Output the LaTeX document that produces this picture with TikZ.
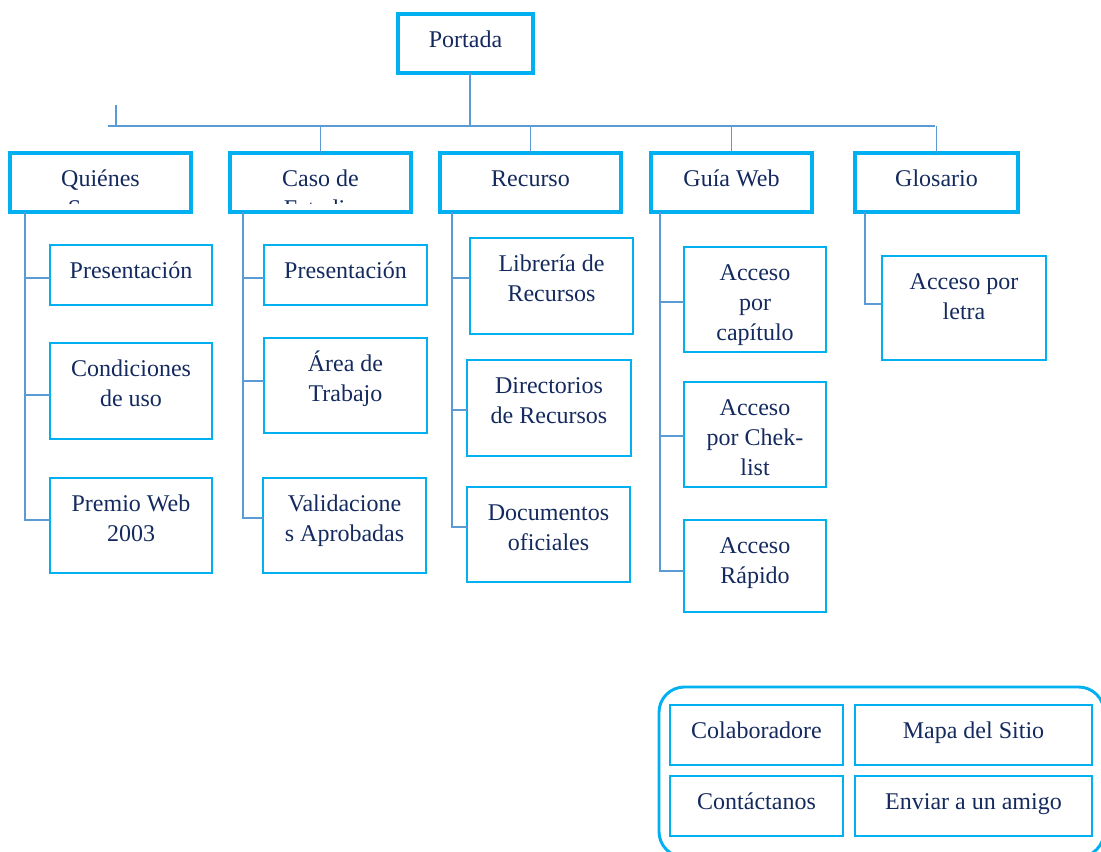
\documentclass[tikz,border=0pt]{standalone}
\usepackage{fontspec}
\setmainfont{Liberation Serif}
\usetikzlibrary{calc}
\definecolor{bcyan}{HTML}{00B0F0}
\definecolor{tnavy}{HTML}{142A5E}
\definecolor{lblue}{HTML}{5B9BD5}
\newcommand\bx[6]{\node[#6, anchor=north west, minimum width={(#4-#2)*0.75pt}, minimum height={(#5-#3)*0.75pt}] (#1) at (#2,#3) {};}
\newcommand\tx[3]{\node[txt] (#1) at ($(#2.north)+(0,12)$) {\strut #3};}
\begin{document}
\begin{tikzpicture}[x=0.75pt,y=-0.75pt,
  thick box/.style={draw=bcyan, line width=2.4pt, inner sep=0pt, outer sep=0pt},
  thin box/.style={draw=bcyan, line width=1.1pt, inner sep=0pt, outer sep=0pt},
  frame box/.style={draw=bcyan, line width=2.2pt, inner sep=0pt, outer sep=0pt, rounded corners=19pt},
  txt/.style={anchor=north, inner sep=0pt, align=center, text=tnavy, font=\fontsize{18}{22.5}\selectfont},
  conn/.style={draw=lblue, line width=1.1pt}]
\useasboundingbox (0,0) rectangle (1101,851);
\clip (0,0) rectangle (1101,851);

% top
\bx{portada}{398}{14}{533}{73}{thick box}
\tx{tportada}{portada}{Portada}

% level 1
\begin{scope}
\clip (10,153) rectangle (191,203);
\node[txt] (tquienes) at (100.5,165) {\strut Quiénes\\Somos};
\end{scope}
\begin{scope}
\clip (230,153) rectangle (411,203);
\node[txt] (tcaso) at (320.5,165) {\strut Caso de\\Estudio};
\end{scope}
\bx{quienes}{10}{153}{191}{212}{thick box}
\bx{caso}{230}{153}{411}{212}{thick box}
\bx{recurso}{440}{153}{621}{212}{thick box}
\tx{trecurso}{recurso}{Recurso}
\bx{guia}{651}{153}{812}{212}{thick box}
\tx{tguia}{guia}{Guía Web}
\bx{glosario}{855}{153}{1018}{212}{thick box}
\tx{tglosario}{glosario}{Glosario}

% bus
\coordinate (busP) at (470,126);
\coordinate (busL) at (108,126);
\coordinate (busR) at (935,126);
\coordinate (tick) at (116,105);
\draw[conn] (portada.south -| busP) -- (busP);
\draw[conn] (busL) -- (busR);
\draw[conn] (tick) -- (tick |- busL);
\draw[conn] (caso.north |- busL) -- (caso.north);
\draw[conn] (recurso.north |- busL) -- (recurso.north);
\draw[conn] (guia.north |- busL) -- (guia.north);
\draw[conn] (glosario.north |- busL) -- (glosario.north);

% Quienes children
\bx{q1}{50}{245}{212}{305}{thin box}
\tx{tq1}{q1}{Presentación}
\bx{q2}{50}{343}{212}{439}{thin box}
\tx{tq2}{q2}{Condiciones\\de uso}
\bx{q3}{50}{478}{212}{573}{thin box}
\tx{tq3}{q3}{Premio Web\\2003}
\coordinate (qx) at (25,212);
\draw[conn] (qx) |- ([yshift=-2.25pt]q1.west);
\draw[conn] (qx) |- ([yshift=-3pt]q2.west);
\draw[conn] (qx) |- ([yshift=4pt]q3.west);

% Caso children
\bx{c1}{264}{245}{427}{305}{thin box}
\tx{tc1}{c1}{Presentación}
\bx{c2}{264}{338}{427}{433}{thin box}
\tx{tc2}{c2}{Área de\\Trabajo}
\bx{c3}{263}{478}{426}{573}{thin box}
\tx{tc3}{c3}{Validacione\\s Aprobadas}
\coordinate (cx) at (243,212);
\draw[conn] (cx) |- ([yshift=-2.25pt]c1.west);
\draw[conn] (cx) |- ([yshift=3.4pt]c2.west);
\draw[conn] (cx) |- ([yshift=5.6pt]c3.west);

% Recurso children
\bx{r1}{470}{238}{633}{334}{thin box}
\tx{tr1}{r1}{Librería de\\Recursos}
\bx{r2}{467}{360}{631}{456}{thin box}
\tx{tr2}{r2}{Directorios\\de Recursos}
\bx{r3}{467}{487}{630}{582}{thin box}
\tx{tr3}{r3}{Documentos\\oficiales}
\coordinate (rx) at (452,212);
\draw[conn] (rx) |- ([yshift=6pt]r1.west);
\draw[conn] (rx) |- ([yshift=-1.5pt]r2.west);
\draw[conn] (rx) |- ([yshift=5.6pt]r3.west);

% Guia children
\bx{g1}{684}{247}{826}{352}{thin box}
\tx{tg1}{g1}{Acceso\\por\\capítulo}
\bx{g2}{684}{382}{826}{487}{thin box}
\tx{tg2}{g2}{Acceso\\por Chek-\\list}
\bx{g3}{684}{520}{826}{612}{thin box}
\tx{tg3}{g3}{Acceso\\Rápido}
\coordinate (gx) at (660,212);
\draw[conn] (gx) |- ([yshift=-1.9pt]g1.west);
\draw[conn] (gx) |- ([yshift=-1.1pt]g2.west);
\draw[conn] (gx) |- ([yshift=-3.75pt]g3.west);

% Glosario child
\bx{l1}{882}{256}{1046}{360}{thin box}
\tx{tl1}{l1}{Acceso por\\letra}
\coordinate (lx) at (865,212);
\draw[conn] (lx) |- ([yshift=3pt]l1.west);

% footer
\bx{footer}{659}{687}{1104}{857}{frame box}
\bx{f1}{670}{705}{843}{765}{thin box}
\tx{tf1}{f1}{Colaboradore}
\bx{f2}{855}{705}{1092}{765}{thin box}
\tx{tf2}{f2}{Mapa del Sitio}
\bx{f3}{670}{776}{843}{836}{thin box}
\tx{tf3}{f3}{Contáctanos}
\bx{f4}{855}{776}{1092}{836}{thin box}
\tx{tf4}{f4}{Enviar a un amigo}
\end{tikzpicture}
\end{document}
